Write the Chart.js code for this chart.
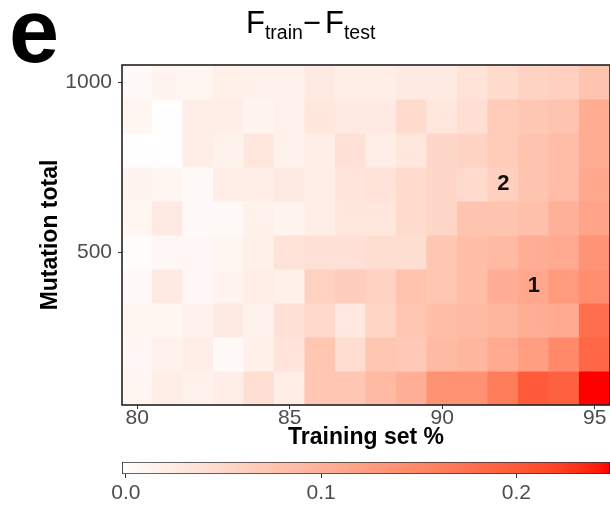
<!DOCTYPE html>
<html>
<head>
<meta charset="utf-8">
<script src="https://cdn.jsdelivr.net/npm/chart.js@4.4.1/dist/chart.umd.min.js"></script>
<style>
  html, body { margin: 0; padding: 0; background: #fff; }
  #wrap { position: relative; width: 610px; height: 509px; overflow: hidden; }
  canvas { position: absolute; left: 0; }
  #heat { top: 0; }
  #bar { top: 455px; }
</style>
</head>
<body>
<div id="wrap">
  <canvas id="heat" width="610" height="455"></canvas>
  <canvas id="bar" width="610" height="54"></canvas>
</div>
<script>
// training set share (columns) and mutation totals (rows, top to bottom)
const trainPct = [80, 81, 82, 83, 84, 85, 86, 87, 88, 89, 90, 91, 92, 93, 94, 95];
const mutationTotal = [1000, 900, 800, 700, 600, 500, 400, 300, 200, 100];

// F_train - F_test, one row per mutation total
const fGap = [
  [0.005, 0.012, 0.010, 0.018, 0.015, 0.015, 0.025, 0.020, 0.020, 0.025, 0.025, 0.035, 0.045, 0.055, 0.060, 0.075],
  [0.010, 0.000, 0.020, 0.020, 0.012, 0.015, 0.030, 0.025, 0.025, 0.045, 0.030, 0.040, 0.065, 0.070, 0.075, 0.105],
  [0.000, 0.000, 0.020, 0.015, 0.030, 0.015, 0.020, 0.038, 0.020, 0.030, 0.050, 0.055, 0.065, 0.075, 0.085, 0.105],
  [0.012, 0.010, 0.005, 0.020, 0.020, 0.025, 0.020, 0.032, 0.035, 0.045, 0.050, 0.045, 0.060, 0.075, 0.085, 0.110],
  [0.010, 0.025, 0.005, 0.005, 0.015, 0.012, 0.020, 0.030, 0.030, 0.045, 0.050, 0.075, 0.075, 0.080, 0.100, 0.115],
  [0.002, 0.008, 0.008, 0.010, 0.018, 0.036, 0.038, 0.038, 0.041, 0.041, 0.073, 0.083, 0.088, 0.103, 0.108, 0.136],
  [0.005, 0.025, 0.008, 0.012, 0.020, 0.018, 0.058, 0.063, 0.058, 0.078, 0.073, 0.083, 0.103, 0.111, 0.128, 0.143],
  [0.010, 0.010, 0.015, 0.025, 0.015, 0.038, 0.048, 0.028, 0.053, 0.073, 0.083, 0.088, 0.093, 0.103, 0.108, 0.178],
  [0.008, 0.015, 0.020, 0.005, 0.018, 0.033, 0.073, 0.043, 0.073, 0.068, 0.088, 0.093, 0.108, 0.123, 0.148, 0.186],
  [0.010, 0.020, 0.015, 0.020, 0.040, 0.022, 0.072, 0.072, 0.088, 0.102, 0.138, 0.138, 0.163, 0.198, 0.193, 0.248]
];

const xTicks = [80, 85, 90, 95];
const yTicks = [500, 1000];
const colorTicks = [0, 0.1, 0.2];
const colorRange = [-0.002, 0.248];

// numbered cells
const markText = ['1', '2'];
const markPct = [93, 92];
const markTotal = [400, 700];

const FONT = "'Liberation Sans', Arial, Helvetica, sans-serif";
const TICK_COLOR = '#4d4d4d';

// white -> red, interpolated in CIE Lab
function srgbToLinear(c) { return c <= 0.04045 ? c / 12.92 : Math.pow((c + 0.055) / 1.055, 2.4); }
function linearToSrgb(c) { return c <= 0.0031308 ? 12.92 * c : 1.055 * Math.pow(c, 1 / 2.4) - 0.055; }
function rgbToLab(r, g, b) {
  const R = srgbToLinear(r / 255), G = srgbToLinear(g / 255), B = srgbToLinear(b / 255);
  const X = (0.4124 * R + 0.3576 * G + 0.1805 * B) / 0.95047;
  const Y = 0.2126 * R + 0.7152 * G + 0.0722 * B;
  const Z = (0.0193 * R + 0.1192 * G + 0.9505 * B) / 1.08883;
  const f = t => t > 0.008856 ? Math.cbrt(t) : 7.787 * t + 16 / 116;
  const fx = f(X), fy = f(Y), fz = f(Z);
  return [116 * fy - 16, 500 * (fx - fy), 200 * (fy - fz)];
}
function labToRgb(L, a, b) {
  const fy = (L + 16) / 116, fx = fy + a / 500, fz = fy - b / 200;
  const inv = t => t * t * t > 0.008856 ? t * t * t : (t - 16 / 116) / 7.787;
  const X = 0.95047 * inv(fx), Y = inv(fy), Z = 1.08883 * inv(fz);
  const rl = 3.2406 * X - 1.5372 * Y - 0.4986 * Z;
  const gl = -0.9689 * X + 1.8758 * Y + 0.0415 * Z;
  const bl = 0.0557 * X - 0.2040 * Y + 1.0570 * Z;
  const to255 = c => Math.round(Math.min(1, Math.max(0, linearToSrgb(Math.min(1, Math.max(0, c))))) * 255);
  return [to255(rl), to255(gl), to255(bl)];
}
const labLow = rgbToLab(255, 255, 255);
const labHigh = rgbToLab(255, 0, 0);
function rampColor(t) {
  t = Math.min(1, Math.max(0, t));
  const lab = labLow.map((v, i) => v + (labHigh[i] - v) * t);
  const [r, g, b] = labToRgb(lab[0], lab[1], lab[2]);
  return `rgb(${r},${g},${b})`;
}
function fillFor(v) {
  return rampColor((v - colorRange[0]) / (colorRange[1] - colorRange[0]));
}

// one floating-bar dataset per row, each cell spans one 100-mutation band
const rowStep = mutationTotal[0] - mutationTotal[1];
const heatSets = mutationTotal.map((m, r) => ({
  data: trainPct.map(p => ({ x: p, y: [m - rowStep / 2, m + rowStep / 2] })),
  backgroundColor: fGap[r].map(fillFor),
  borderWidth: 0,
  grouped: false,
  barPercentage: 1,
  categoryPercentage: 1,
  inflateAmount: 0.6
}));

const panelDecor = {
  id: 'panelDecor',
  afterDatasetsDraw(chart) {
    const { ctx, chartArea: a, scales } = chart;
    ctx.save();
    ctx.strokeStyle = '#222';
    ctx.lineWidth = 1.6;
    ctx.strokeRect(a.left, a.top, a.right - a.left, a.bottom - a.top);
    ctx.fillStyle = '#111';
    ctx.font = `bold 22px ${FONT}`;
    ctx.textAlign = 'center';
    ctx.textBaseline = 'middle';
    markText.forEach((t, i) => {
      ctx.fillText(t, scales.x.getPixelForValue(markPct[i]), scales.y.getPixelForValue(markTotal[i]));
    });
    ctx.restore();
  },
  afterDraw(chart) {
    const ctx = chart.ctx;
    ctx.save();
    ctx.fillStyle = '#000';
    ctx.textBaseline = 'alphabetic';
    ctx.textAlign = 'left';
    ctx.font = `bold 90px ${FONT}`;
    ctx.fillText('e', 9, 62);

    // F_train − F_test with subscripts
    const parts = [
      { s: 'F', size: 31, dy: 0, gap: 0 },
      { s: 'train', size: 19.5, dy: 6, gap: 0 },
      { s: '\u2212', size: 31, dy: 0, gap: 0 },
      { s: 'F', size: 31, dy: 0, gap: 4 },
      { s: 'test', size: 19.5, dy: 6, gap: 0 }
    ];
    let x = 246;
    parts.forEach(p => {
      x += p.gap;
      ctx.font = `${p.size}px ${FONT}`;
      ctx.fillText(p.s, x, 33 + p.dy);
      x += ctx.measureText(p.s).width;
    });
    ctx.restore();
  }
};

new Chart(document.getElementById('heat'), {
  type: 'bar',
  data: { datasets: heatSets },
  options: {
    responsive: false,
    animation: false,
    events: [],
    layout: { padding: { top: 65, left: 0, right: 0, bottom: 0 } },
    plugins: { legend: { display: false }, tooltip: { enabled: false } },
    scales: {
      x: {
        type: 'linear',
        min: trainPct[0] - 0.5,
        max: trainPct[trainPct.length - 1] + 0.5,
        offset: false,
        afterBuildTicks: s => { s.ticks = xTicks.map(v => ({ value: v })); },
        afterFit: s => { s.height = 50; s.paddingLeft = 0; s.paddingRight = 0; },
        ticks: { callback: v => String(v), color: TICK_COLOR, font: { family: FONT, size: 21, lineHeight: 1 }, padding: -1, maxRotation: 0, autoSkip: false },
        grid: { offset: false, drawOnChartArea: false, drawTicks: true, tickLength: 4, color: '#333', lineWidth: 1 },
        border: { display: false },
        title: { display: true, text: 'Training set %', color: '#000', font: { family: FONT, size: 23, weight: 'bold', lineHeight: 1.2 }, padding: { top: 0, bottom: 3.7 } }
      },
      y: {
        type: 'linear',
        min: mutationTotal[mutationTotal.length - 1] - rowStep / 2,
        max: mutationTotal[0] + rowStep / 2,
        afterBuildTicks: s => { s.ticks = yTicks.map(v => ({ value: v })); },
        afterFit: s => { s.width = 122; s.paddingTop = 0; s.paddingBottom = 0; },
        ticks: { callback: v => String(v), color: TICK_COLOR, font: { family: FONT, size: 21, lineHeight: 1 }, padding: 6, autoSkip: false },
        grid: { offset: false, drawOnChartArea: false, drawTicks: true, tickLength: 4, color: '#333', lineWidth: 1 },
        border: { display: false },
        title: { display: true, text: 'Mutation total', color: '#000', font: { family: FONT, size: 23, weight: 'bold', lineHeight: 1.2 }, padding: { top: 36.5, bottom: 0 } }
      }
    }
  },
  plugins: [panelDecor]
});

// colour key below the panel
new Chart(document.getElementById('bar'), {
  type: 'bar',
  data: {
    labels: ['F'],
    datasets: [{
      data: [colorRange],
      backgroundColor: c => {
        const { ctx, chartArea } = c.chart;
        if (!chartArea) return null;
        const g = ctx.createLinearGradient(chartArea.left, 0, chartArea.right, 0);
        for (let i = 0; i <= 40; i++) g.addColorStop(i / 40, rampColor(i / 40));
        return g;
      },
      borderColor: '#333',
      borderWidth: 1.2,
      borderSkipped: false,
      barPercentage: 1,
      categoryPercentage: 1
    }]
  },
  options: {
    indexAxis: 'y',
    responsive: false,
    animation: false,
    events: [],
    layout: { padding: { top: 7, left: 122, right: 0, bottom: 0 } },
    plugins: { legend: { display: false }, tooltip: { enabled: false } },
    scales: {
      x: {
        type: 'linear',
        min: colorRange[0],
        max: colorRange[1],
        afterBuildTicks: s => { s.ticks = colorTicks.map(v => ({ value: v })); },
        afterFit: s => { s.height = 35; s.paddingLeft = 0; s.paddingRight = 0; },
        ticks: { callback: v => v.toFixed(1), color: TICK_COLOR, font: { family: FONT, size: 21, lineHeight: 1 }, padding: 5, maxRotation: 0, autoSkip: false },
        grid: { drawOnChartArea: false, drawTicks: true, tickLength: 4, color: '#333', lineWidth: 1 },
        border: { display: false }
      },
      y: { display: false }
    }
  }
});
</script>
</body>
</html>
